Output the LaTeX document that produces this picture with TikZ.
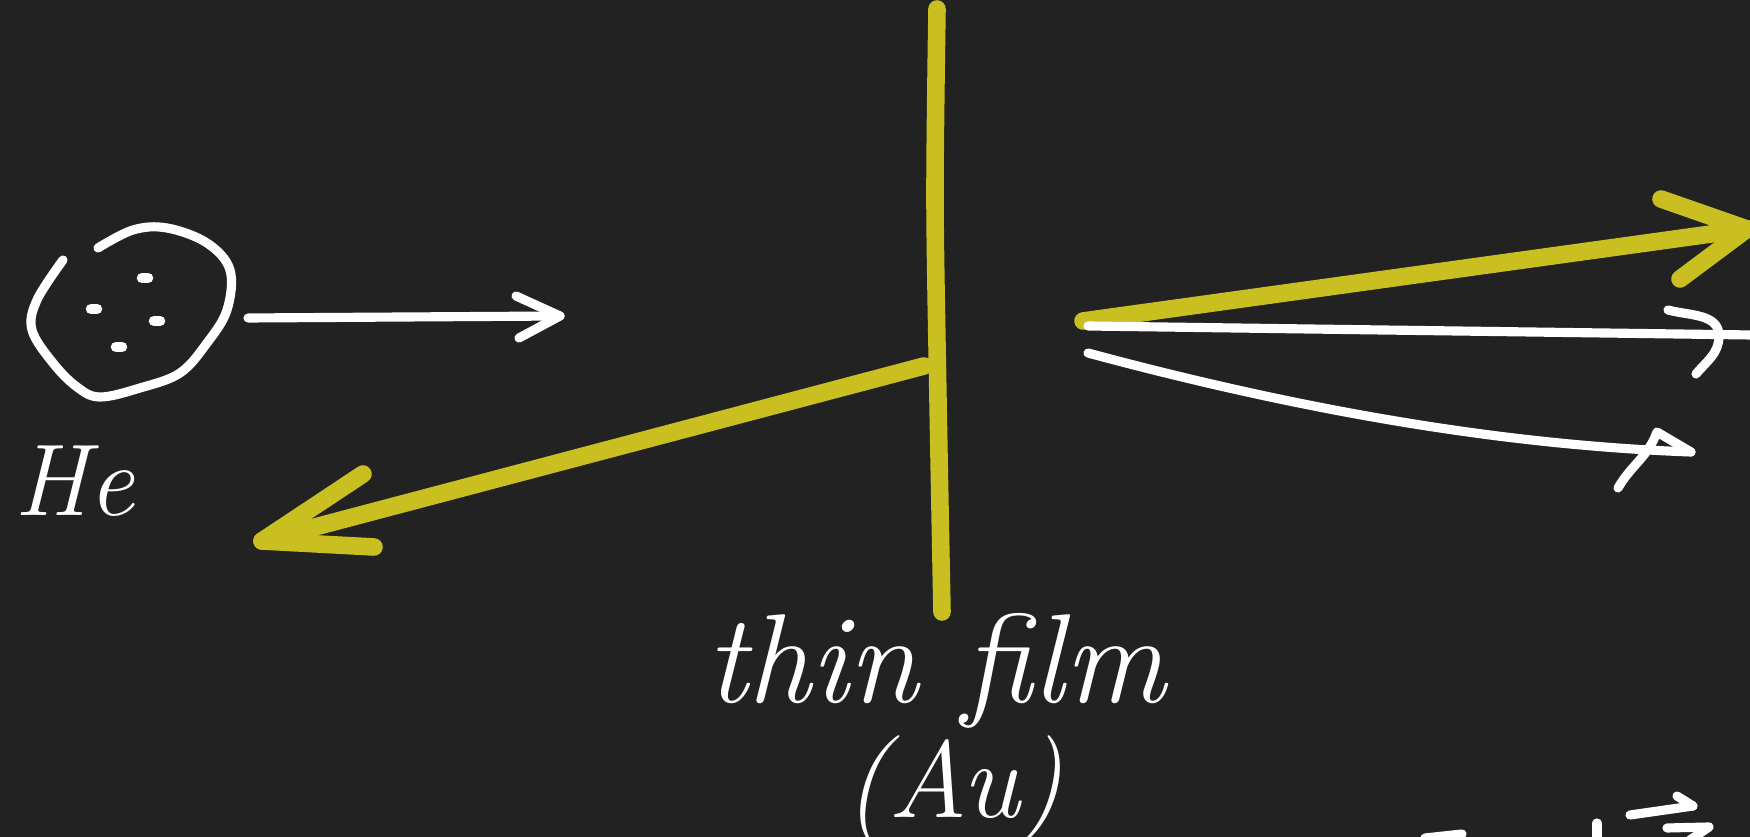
\documentclass[tikz,border=0pt]{standalone}
\usepackage{tikz}
\usetikzlibrary{positioning,calc}
\definecolor{board}{RGB}{34,34,34}
\definecolor{chalkyellow}{RGB}{201,191,32}

\begin{document}
\begin{tikzpicture}[x=0.01cm,y=-0.01cm,
  ink/.style={white,line width=2.6pt,line cap=round,line join=round},
  chalk/.style={chalkyellow,line width=5pt,line cap=round,line join=round},
  handtext/.style={white,inner sep=0pt,font=\fontsize{36}{40}\selectfont\itshape}]
\fill[board] (0,0) rectangle (1750,837);
\useasboundingbox (0,0) rectangle (1750,837);
% helium atom
\draw[ink] plot[smooth,tension=0.6] coordinates {(98,248) (133,230) (167,228) (207,243) (230,270) (227,310) (207,343) (180,373) (140,388) (100,397) (77,387) (53,363) (32,330) (37,300) (63,260)};
\foreach \px/\py in {145/278,94/309,157/321,119/347}
  {\draw[ink,line width=3pt] (\px-3,\py) -- (\px+3,\py);}
\node[handtext,font=\fontsize{29}{32}\selectfont\itshape,anchor=base west] (he) at (14,516) {He};
\coordinate (heout) at (248,318);
\coordinate (hein) at (560,316);
\draw[ink] (heout) -- (hein);
\draw[ink] (516,296) -- (hein) -- (519,338);
% gold film
\coordinate (filmtop) at (937,9);
\coordinate (filmbot) at (942,612);
\draw[chalk] plot[smooth] coordinates {(filmtop) (935,200) (938,400) (filmbot)};
\node[handtext,anchor=base] (film) at (936,703) {thin film};
\node[handtext,font=\fontsize{31}{34}\selectfont\itshape,anchor=base] (au) at (954,818) {(Au)};
% back-scattered
\coordinate (backstart) at (924,366);
\coordinate (backtip) at (262,541);
\draw[chalk] (backstart) -- (backtip);
\draw[chalk] (363,474) -- (backtip) -- (374,547);
% forward
\coordinate (upstart) at (1083,321);
\coordinate (uptip) at (1747,229);
\draw[chalk] (upstart) -- (uptip);
\draw[chalk] (1661,199) -- (uptip) -- (1680,279);
\coordinate (midstart) at (1088,326);
\coordinate (midend) at (1752,335);
\draw[ink] (midstart) -- (midend);
\draw[ink] (1668,310) to[out=-15,in=90] (1719,336) to[out=-90,in=50] (1696,374);
\coordinate (lowstart) at (1088,353);
\coordinate (lowtip) at (1691,452);
\draw[ink] (lowstart) .. controls (1300,410) and (1500,445) .. (lowtip);
\draw[ink] (1618,488) to[out=60,in=-110] (1657,432) -- (lowtip);
% cut-off marks
\draw[ink] (1425,838) -- (1462,834);
\draw[ink] (1597,823) -- (1597,840);
\draw[ink] (1630,815) -- (1693,806);
\draw[ink] (1677,796) -- (1693,806);
\draw[ink] (1667,828) -- (1709,827) -- (1690,840);
\end{tikzpicture}
\end{document}
